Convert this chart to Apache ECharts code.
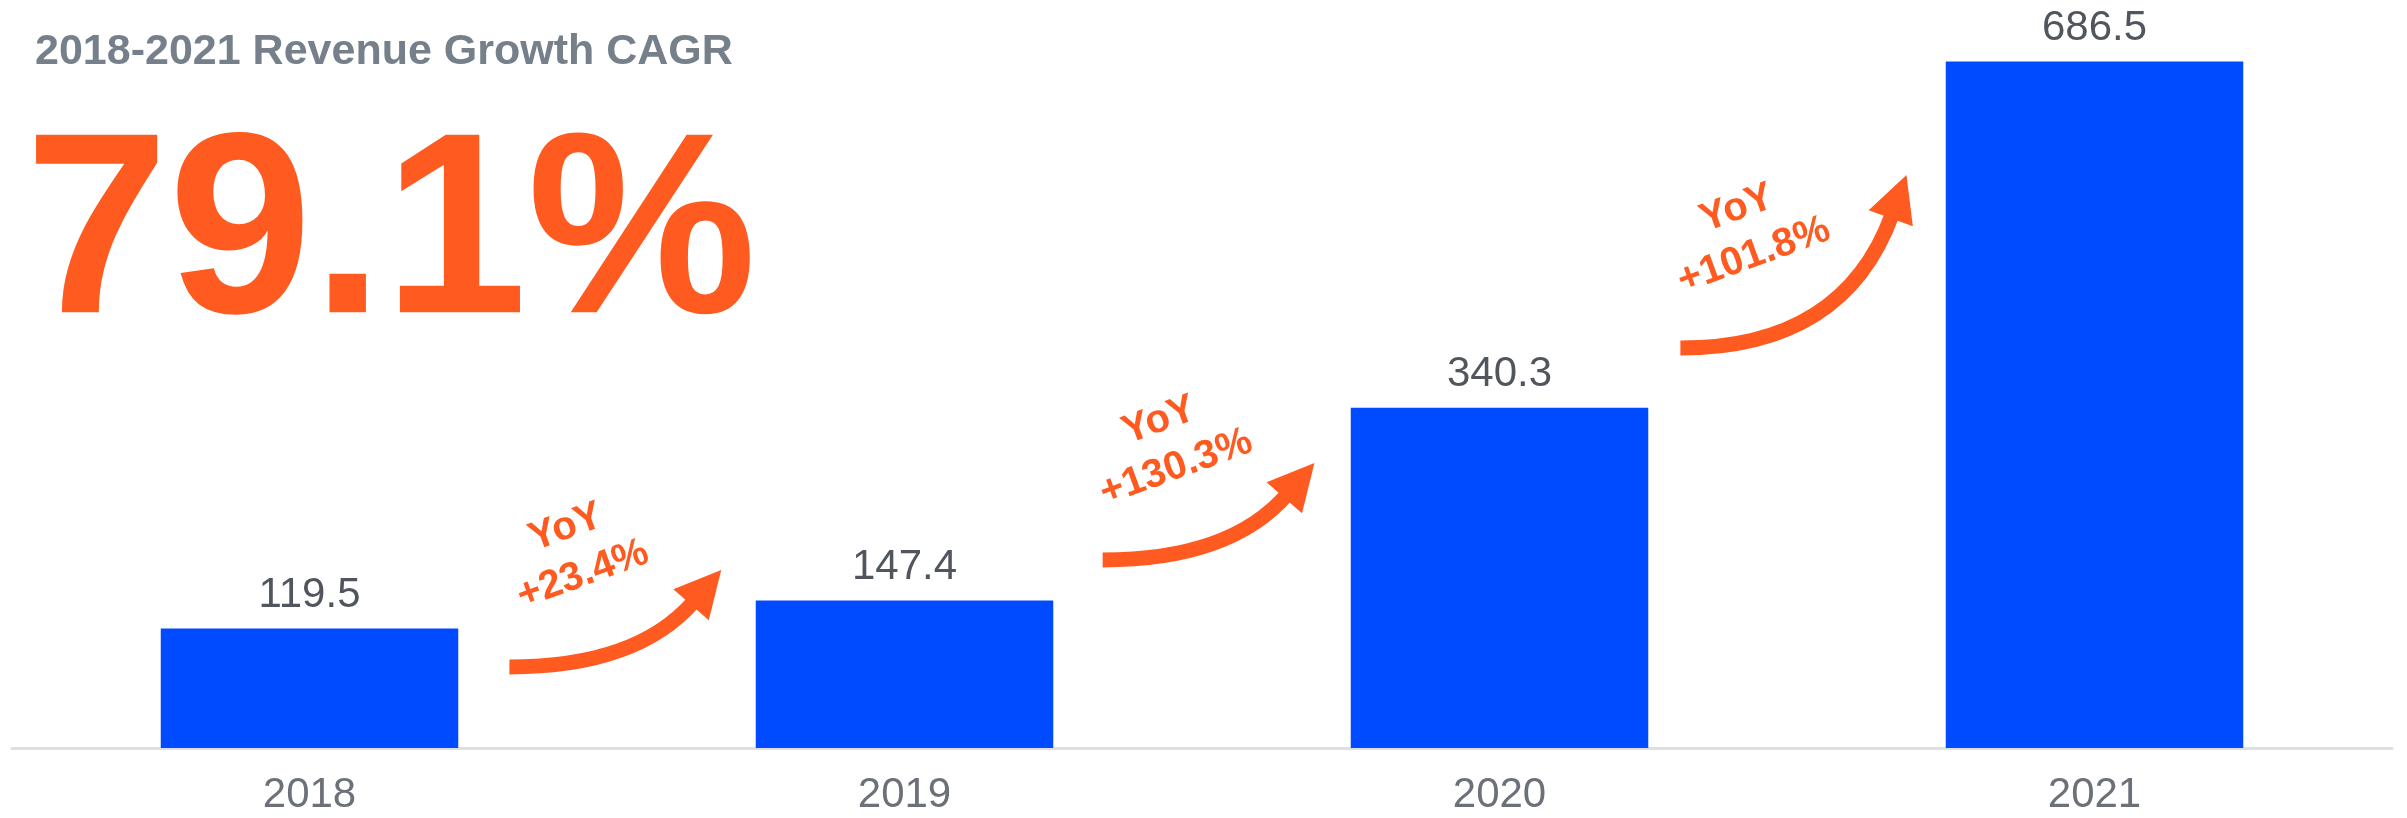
<!DOCTYPE html>
<html>
<head>
<meta charset="utf-8">
<script src="https://cdn.jsdelivr.net/npm/echarts@6/dist/echarts.min.js"></script>
<style>
  html, body { margin: 0; padding: 0; background: #ffffff; }
  #chart { width: 2407px; height: 818px; }
</style>
</head>
<body>
<div id="chart"></div>
<script>
const years = ['2018', '2019', '2020', '2021'];
const revenue = [119.5, 147.4, 340.3, 686.5];
const yoyGrowth = ['+23.4%', '+130.3%', '+101.8%'];
const cagrLabel = '2018-2021 Revenue Growth CAGR';
const cagrValue = '79.1%';

const FONT = '"Liberation Sans", Arial, sans-serif';
const ORANGE = '#ff5a1f';
const BLUE = '#004aff';

// Arrow geometry between neighbouring bars: x is the fraction of the way from
// one category centre to the next, y is in revenue units, angle is the head
// direction in degrees above horizontal.
const arrowLayout = [
  { tailX: 0.336, tailY: 81,  tipX: 0.692, tipY: 178, angle: 49 },
  { tailX: 0.333, tailY: 188, tipX: 0.689, tipY: 285, angle: 49 },
  { tailX: 0.304, tailY: 400, tipX: 0.684, tipY: 573, angle: 70 }
];
const ARROW = { headLen: 46, headHalf: 23.5, shaft: 15, textDx: 65, textDy: -116, textRot: 20 };

function renderArrow(params, api) {
  const i = params.dataIndex;
  const a = arrowLayout[i];
  const c0 = api.coord([i, 0]);
  const c1 = api.coord([i + 1, 0]);
  const span = c1[0] - c0[0];
  const tail = [c0[0] + a.tailX * span, api.coord([i, a.tailY])[1]];
  const tip = [c0[0] + a.tipX * span, api.coord([i, a.tipY])[1]];
  const rad = a.angle * Math.PI / 180;
  const dir = [Math.cos(rad), -Math.sin(rad)];
  const perp = [Math.sin(rad), Math.cos(rad)];
  const base = [tip[0] - dir[0] * ARROW.headLen, tip[1] - dir[1] * ARROW.headLen];
  // the shaft leaves the tail horizontally and meets the head along its axis
  const t = (base[1] - tail[1]) / dir[1];
  const ctrl = [base[0] - t * dir[0], tail[1]];
  const end = [base[0] + dir[0] * 4, base[1] + dir[1] * 4];
  return {
    type: 'group',
    children: [
      {
        type: 'bezierCurve',
        shape: { x1: tail[0], y1: tail[1], x2: end[0], y2: end[1], cpx1: ctrl[0], cpy1: ctrl[1] },
        style: { stroke: ORANGE, lineWidth: ARROW.shaft, fill: null, lineCap: 'butt' }
      },
      {
        type: 'polygon',
        shape: {
          points: [
            tip,
            [base[0] + perp[0] * ARROW.headHalf, base[1] + perp[1] * ARROW.headHalf],
            [base[0] - perp[0] * ARROW.headHalf, base[1] - perp[1] * ARROW.headHalf]
          ]
        },
        style: { fill: ORANGE }
      },
      {
        type: 'text',
        x: tail[0] + ARROW.textDx,
        y: tail[1] + ARROW.textDy,
        rotation: ARROW.textRot * Math.PI / 180,
        style: {
          text: 'YoY\n' + yoyGrowth[i],
          fill: ORANGE,
          font: 'bold 40px ' + FONT,
          align: 'center',
          verticalAlign: 'middle',
          lineHeight: 50
        }
      }
    ]
  };
}

const chart = echarts.init(document.getElementById('chart'), null, { renderer: 'canvas' });
chart.setOption({
  animation: false,
  backgroundColor: '#ffffff',
  title: [
    {
      text: cagrLabel,
      left: 30,
      top: 26,
      textStyle: { fontFamily: FONT, fontSize: 43, fontWeight: 'bold', color: '#76808a' }
    },
    {
      text: cagrValue,
      left: 20,
      top: 107,
      textStyle: { fontFamily: FONT, fontSize: 258, fontWeight: 'bold', color: ORANGE }
    }
  ],
  grid: { left: 12, right: 15, top: 48, bottom: 70, containLabel: false },
  xAxis: {
    type: 'category',
    data: years,
    axisLine: { lineStyle: { color: '#dedfe2', width: 3 } },
    axisTick: { show: false },
    axisLabel: { fontFamily: FONT, fontSize: 42, color: '#6b7079', margin: 26 }
  },
  yAxis: {
    type: 'value',
    min: 0,
    max: 700,
    show: false,
    splitLine: { show: false }
  },
  series: [
    {
      type: 'bar',
      data: revenue,
      barWidth: '50%',
      itemStyle: { color: BLUE },
      label: {
        show: true,
        position: 'top',
        distance: 12,
        fontFamily: FONT,
        fontSize: 42,
        color: '#51565e'
      }
    },
    {
      type: 'custom',
      data: yoyGrowth.map((_, i) => [i, revenue[i]]),
      renderItem: renderArrow,
      clip: false,
      silent: true,
      z: 5
    }
  ]
});
</script>
</body>
</html>
